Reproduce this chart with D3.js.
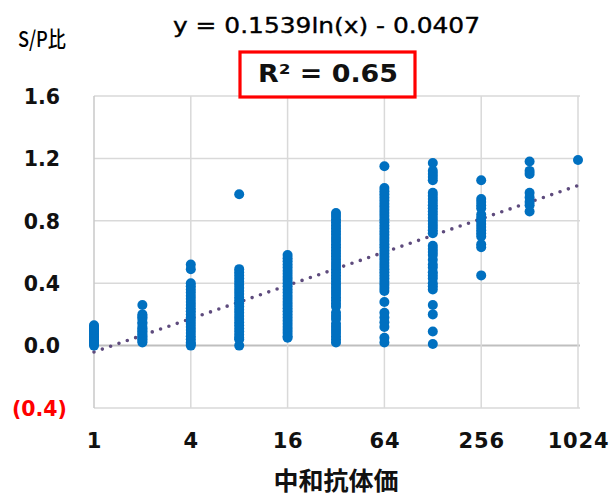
<!DOCTYPE html>
<html>
<head>
<meta charset="utf-8">
<script src="https://cdn.jsdelivr.net/npm/d3@7"></script>
<style>
  html, body { margin: 0; padding: 0; background: #ffffff; }
  svg { display: block; }
</style>
</head>
<body>
<svg id="chart" width="614" height="499"></svg>
<script>
// ---- data ----
const titers = [1, 2, 4, 8, 16, 32, 64, 128, 256, 512, 1024];
const spValues1 = [0.13, 0.12, 0.11, 0.10, 0.09, 0.08, 0.07, 0.06, 0.05, 0.04, 0.03, 0.02, 0.01, 0.00];
const spValues2 = [0.26, 0.20, 0.19, 0.18, 0.17, 0.15, 0.14, 0.12, 0.11, 0.10, 0.09, 0.08, 0.07, 0.06, 0.05, 0.04, 0.03, 0.02];
const spValues4 = [0.52, 0.49, 0.40, 0.38, 0.36, 0.34, 0.32, 0.30, 0.28, 0.26, 0.24, 0.22, 0.20, 0.18, 0.16, 0.14, 0.12, 0.10, 0.08, 0.06, 0.04, 0.02, 0.01, 0.00];
const spValues8 = [0.97, 0.49, 0.47, 0.45, 0.43, 0.41, 0.39, 0.37, 0.35, 0.33, 0.31, 0.29, 0.27, 0.25, 0.23, 0.21, 0.19, 0.17, 0.15, 0.13, 0.11, 0.09, 0.07, 0.05, 0.04, 0.00];
const spValues16 = [0.58, 0.56, 0.54, 0.52, 0.50, 0.48, 0.46, 0.44, 0.42, 0.40, 0.38, 0.36, 0.34, 0.32, 0.30, 0.28, 0.26, 0.24, 0.22, 0.20, 0.18, 0.16, 0.14, 0.12, 0.10, 0.08, 0.06, 0.05];
const spValues32 = [0.85, 0.83, 0.81, 0.79, 0.77, 0.75, 0.73, 0.71, 0.69, 0.67, 0.65, 0.63, 0.61, 0.59, 0.57, 0.55, 0.53, 0.51, 0.49, 0.47, 0.45, 0.43, 0.41, 0.39, 0.37, 0.35, 0.33, 0.31, 0.29, 0.27, 0.25, 0.21, 0.19, 0.17, 0.14, 0.12, 0.10, 0.08, 0.06, 0.04, 0.02];
const spValues64 = [1.15, 1.01, 0.99, 0.97, 0.95, 0.93, 0.91, 0.89, 0.87, 0.85, 0.83, 0.81, 0.79, 0.77, 0.75, 0.73, 0.71, 0.69, 0.67, 0.65, 0.63, 0.61, 0.59, 0.57, 0.55, 0.53, 0.51, 0.49, 0.47, 0.45, 0.43, 0.41, 0.39, 0.37, 0.35, 0.28, 0.21, 0.18, 0.15, 0.12, 0.05, 0.02];
const spValues128 = [1.17, 1.12, 1.10, 1.08, 1.06, 0.98, 0.96, 0.94, 0.92, 0.90, 0.88, 0.86, 0.84, 0.82, 0.80, 0.78, 0.76, 0.74, 0.72, 0.64, 0.62, 0.60, 0.58, 0.55, 0.52, 0.50, 0.47, 0.45, 0.43, 0.40, 0.38, 0.36, 0.26, 0.20, 0.09, 0.01];
const spValues256 = [1.06, 0.94, 0.92, 0.90, 0.88, 0.84, 0.82, 0.80, 0.78, 0.76, 0.74, 0.72, 0.70, 0.65, 0.63, 0.45];
const spValues512 = [1.18, 1.12, 1.10, 0.98, 0.95, 0.92, 0.90, 0.86];
const spValues1024 = [1.19];
const seriesValues = [spValues1, spValues2, spValues4, spValues8, spValues16, spValues32, spValues64, spValues128, spValues256, spValues512, spValues1024];

const xTicks = [1, 4, 16, 64, 256, 1024];
const yTicks = [-0.4, 0.0, 0.4, 0.8, 1.2, 1.6];
const trendA = 0.1539, trendB = -0.0407;
const equationLabel = "y = 0.1539ln(x) - 0.0407";
const r2Label = "R² = 0.65";
const yAxisTitle = "S/P比";
const xAxisTitle = "中和抗体価";

// ---- layout ----
const svg = d3.select("#chart");
const pL = 94, pR = 578, pT = 96, pB = 408;

const x = d3.scaleLog().base(2).domain([1, 1024]).range([pL, pR]);
const y = d3.scaleLinear().domain([-0.4, 1.6]).range([pB, pT]);

const points = [];
titers.forEach((t, i) => seriesValues[i].forEach(v => points.push({t, v})));

// gridlines
const g = svg.append("g");
g.selectAll("line.hg").data(yTicks).enter().append("line")
  .attr("x1", pL).attr("x2", pR + 2)
  .attr("y1", d => y(d)).attr("y2", d => y(d))
  .attr("stroke", d => d === 0 ? "#bfbfbf" : "#d9d9d9")
  .attr("stroke-width", d => d === 0 ? 2 : 1.5);
g.selectAll("line.vg").data(xTicks).enter().append("line")
  .attr("x1", d => x(d)).attr("x2", d => x(d))
  .attr("y1", pT).attr("y2", pB)
  .attr("stroke", d => d === 1 ? "#c8c8c8" : "#d9d9d9")
  .attr("stroke-width", 1.5);

// axes labels via d3 axes
const fontLat = "'DejaVu Sans', Verdana, sans-serif";
const yAxis = d3.axisLeft(y).tickValues(yTicks).tickSize(0).tickPadding(0)
  .tickFormat(d => d < 0 ? "(" + d3.format(".1f")(-d) + ")" : d3.format(".1f")(d));
const ya = svg.append("g").attr("transform", "translate(60,0)").call(yAxis);
ya.select(".domain").remove();
ya.selectAll("text")
  .attr("font-family", fontLat).attr("font-size", 20.5).attr("font-weight", "bold")
  .attr("fill", d => d < 0 ? "#ff0000" : "#111111")
  .attr("dx", d => d < 0 ? 7 : 0)
  .attr("dy", "0.36em");

const xAxis = d3.axisBottom(x).tickValues(xTicks).tickSize(0).tickPadding(0)
  .tickFormat(d3.format("d"));
const xa = svg.append("g").attr("transform", "translate(0,440)").call(xAxis);
xa.select(".domain").remove();
xa.selectAll("text")
  .attr("font-family", fontLat).attr("font-size", 21).attr("font-weight", "bold")
  .attr("letter-spacing", 0.8)
  .attr("fill", "#111111").attr("dy", "0.36em");

// trend line (dotted)
const trendX = d3.range(0, 101).map(i => Math.pow(2, i / 10));
const line = d3.line().x(d => x(d)).y(d => y(trendA * Math.log(d) + trendB));
svg.append("path").datum(trendX)
  .attr("d", line)
  .attr("fill", "none")
  .attr("stroke", "#5e4b7d")
  .attr("stroke-width", 3.6)
  .attr("stroke-linecap", "round")
  .attr("stroke-dasharray", "0,8.8");

// points
svg.append("g").selectAll("circle").data(points).enter().append("circle")
  .attr("cx", d => x(d.t)).attr("cy", d => y(d.v))
  .attr("r", 5)
  .attr("fill", "#0070c0");

// titles
svg.append("text").text(yAxisTitle)
  .attr("x", 18).attr("y", 47)
  .attr("font-family", "'Noto Sans CJK JP', " + fontLat)
  .attr("font-size", 22).attr("font-weight", 500).attr("fill", "#000000")
  .attr("textLength", 48).attr("lengthAdjust", "spacingAndGlyphs");

svg.append("text").text(equationLabel)
  .attr("x", 173).attr("y", 33)
  .attr("font-family", fontLat)
  .attr("font-size", 20.5).attr("fill", "#000000")
  .attr("stroke", "#000000").attr("stroke-width", 0.35)
  .attr("textLength", 307).attr("lengthAdjust", "spacingAndGlyphs");

svg.append("rect")
  .attr("x", 240).attr("y", 52).attr("width", 175).attr("height", 45)
  .attr("fill", "#ffffff").attr("stroke", "#ff0000").attr("stroke-width", 3.2);
svg.append("text").text(r2Label)
  .attr("x", 258).attr("y", 82)
  .attr("font-family", fontLat).attr("font-weight", "bold")
  .attr("font-size", 25).attr("fill", "#111111")
  .attr("textLength", 140).attr("lengthAdjust", "spacingAndGlyphs");

svg.append("text").text(xAxisTitle)
  .attr("x", 336).attr("y", 490).attr("text-anchor", "middle")
  .attr("font-family", "'Noto Sans CJK JP', sans-serif").attr("font-weight", "bold")
  .attr("font-size", 25).attr("fill", "#111111");
</script>
</body>
</html>
